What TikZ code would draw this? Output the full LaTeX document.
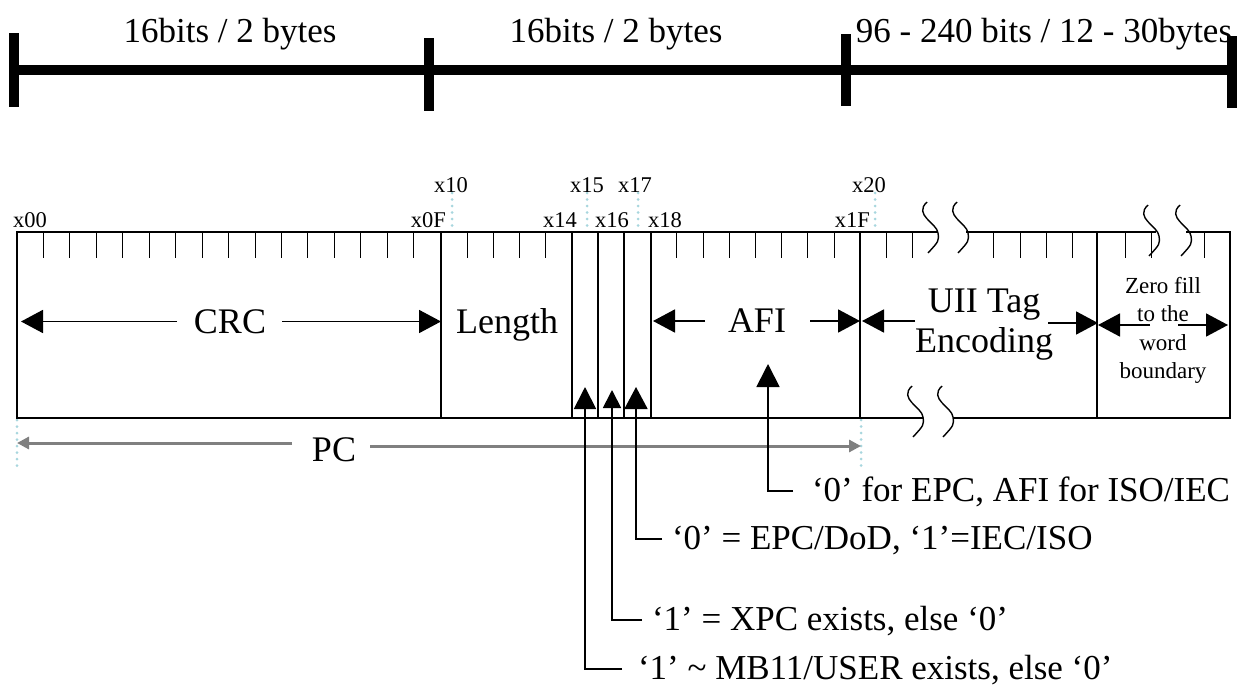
\documentclass[tikz,border=0pt]{standalone}
\usepackage{fontspec}
\setmainfont{Liberation Serif}
\usetikzlibrary{arrows.meta}
\definecolor{dotblue}{RGB}{168,214,222}
\definecolor{pcgray}{RGB}{128,128,128}
\newcommand\FontBig{\fontsize{36}{40}\selectfont}
\newcommand\FontLbl{\fontsize{35}{40}\selectfont}
\newcommand\FontHex{\fontsize{22.5}{24}\selectfont}
\newcommand\FontZero{\fontsize{23}{28}\selectfont}
\begin{document}
\begin{tikzpicture}[x=1pt,y=-1pt,
  txt/.style={inner sep=0pt, outer sep=0pt},
  big/.style={txt, font=\FontBig},
  lbl/.style={txt, font=\FontLbl},
  hex/.style={txt, font=\FontHex},
  zero/.style={txt, font=\FontZero},
  bar/.style={line width=10pt, line cap=butt},
  box/.style={line width=1.8pt},
  divider/.style={line width=1.2pt},
  tickline/.style={line width=1pt},
  dotl/.style={dotblue, line width=3pt, line cap=round, dash pattern=on 0pt off 6.5pt},
  harrow/.style={line width=1.8pt, -{Triangle[length=22pt,width=23pt]}},
  callout/.style={line width=1.8pt},
  pcarrow/.style={pcgray, line width=3pt, -{Triangle[length=12pt,width=12pt]}},
  squigline/.style={line width=1.4pt},
  squig/.pic={\draw[squigline] (0,-31) .. controls (-14,-18) and (10,-10) .. (11,0) .. controls (12,8) .. (1,20);}
]
\useasboundingbox (0,0) rectangle (1247,688);

% ---------- top dimension bar ----------
\draw[bar] (14,70) -- (1232,70);
\draw[bar] (14,33) -- (14,107);
\draw[bar] (428.6,38) -- (428.6,111);
\draw[bar] (846,34) -- (846,106);
\draw[bar] (1232,36) -- (1232,108);
\node[lbl, anchor=base] (t1) at (230,42) {16bits / 2 bytes};
\node[lbl, anchor=base] (t2) at (616,42) {16bits / 2 bytes};
\node[lbl, anchor=base] (t3) at (1044,42) {96 - 240 bits / 12 - 30bytes};

% ---------- dotted guides ----------
\foreach \x in {452,587,638,875} \draw[dotl] (\x,193) -- (\x,227);
\draw[dotl] (17,420) -- (17,466);
\draw[dotl] (861,420) -- (861,466);

% ---------- hex labels ----------
\node[hex, anchor=base west] (h00) at (13,227) {x00};
\node[hex, anchor=base east] (h0F) at (446,227) {x0F};
\node[hex, anchor=base west] (h10) at (434,192) {x10};
\node[hex, anchor=base west] (h14) at (543,227) {x14};
\node[hex, anchor=base west] (h15) at (570,192) {x15};
\node[hex, anchor=base west] (h16) at (595,227) {x16};
\node[hex, anchor=base west] (h17) at (618,192) {x17};
\node[hex, anchor=base west] (h18) at (648,227) {x18};
\node[hex, anchor=base east] (h1F) at (870,227) {x1F};
\node[hex, anchor=base west] (h20) at (852,192) {x20};

% ---------- ticks ----------
\foreach \k in {1,...,15} \draw[tickline] ({17+26.45*\k},232) -- ++(0,26);
\foreach \k in {1,2,3,4,9,10,11,12,13,14,15} \draw[tickline] ({441+26.2*\k},232) -- ++(0,26);
\foreach \x in {886,912,993,1020,1046,1072,1125,1151,1204} \draw[tickline] (\x,232) -- ++(0,26);

% ---------- frame ----------
\draw[box] (938,232) -- (17,232) -- (17,418) -- (923,418);
\draw[box] (953,418) -- (1230,418) -- (1230,232) -- (1186,232);
\draw[box] (966,232) -- (1156,232);
\foreach \x in {441,572,598,624,651,860,1097} \draw[divider] (\x,232) -- (\x,418);

% ---------- break marks ----------
\pic at (927,233) {squig};
\pic at (957,233) {squig};
\pic at (1148,236) {squig};
\pic at (1180,236) {squig};
\pic at (912,417) {squig};
\pic at (942,417) {squig};

% ---------- field labels ----------
\node[big, anchor=base] (crc) at (230,333) {CRC};
\node[big, anchor=base] (len) at (507,333) {Length};
\node[big, anchor=base] (afi) at (757,332) {AFI};
\node[big, anchor=base] (uii1) at (984,312) {UII Tag};
\node[big, anchor=base] (uii2) at (984,352) {Encoding};
\node[zero, anchor=base] (z1) at (1163,293) {Zero fill};
\node[zero, anchor=base] (z2) at (1163,321.5) {to the};
\node[zero, anchor=base] (z3) at (1163,350) {word};
\node[zero, anchor=base] (z4) at (1163,378.5) {boundary};

\coordinate (crcLs) at (177,321.5); \coordinate (crcL) at (21,321.5);
\coordinate (crcRs) at (282,321.5); \coordinate (crcR) at (441,321.5);
\draw[harrow] (crcLs) -- (crcL);
\draw[harrow] (crcRs) -- (crcR);

\coordinate (afiLs) at (705,321); \coordinate (afiL) at (653,321);
\coordinate (afiRs) at (810,321); \coordinate (afiR) at (860,321);
\draw[harrow] (afiLs) -- (afiL);
\draw[harrow] (afiRs) -- (afiR);

\coordinate (uiiLs) at (915,321); \coordinate (uiiL) at (862,321);
\coordinate (uiiRs) at (1048,323); \coordinate (uiiR) at (1098,323);
\draw[harrow] (uiiLs) -- (uiiL);
\draw[harrow] (uiiRs) -- (uiiR);

\coordinate (zLs) at (1150,325); \coordinate (zL) at (1098,325);
\coordinate (zRs) at (1178,325); \coordinate (zR) at (1228,325);
\draw[harrow] (zLs) -- (zL);
\draw[harrow] (zRs) -- (zR);

% ---------- PC span ----------
\node[big, anchor=base] (pc) at (334,461) {PC};
\coordinate (pcLs) at (292,443); \coordinate (pcL) at (17,443);
\coordinate (pcRs) at (370,446); \coordinate (pcR) at (861,446);
\draw[pcarrow] (pcLs) -- (pcL);
\draw[pcarrow] (pcRs) -- (pcR);

% ---------- call-outs ----------
\node[lbl, anchor=base west] (lA) at (812,501) {‘0’ for EPC, AFI for ISO/IEC};
\node[lbl, anchor=base west] (lB) at (672,549) {‘0’ = EPC/DoD, ‘1’=IEC/ISO};
\node[lbl, anchor=base west] (lC) at (652,630) {‘1’ = XPC exists, else ‘0’};
\node[lbl, anchor=base west] (lD) at (638,679) {‘1’ \textasciitilde{} MB11/USER exists, else ‘0’};

\coordinate (eA) at (793,491); \coordinate (cA) at (768,491); \coordinate (tA) at (768,364);
\coordinate (eB) at (662,539); \coordinate (cB) at (636,539); \coordinate (tB) at (636,387);
\coordinate (eC) at (642,620); \coordinate (cC) at (612,620); \coordinate (tC) at (612,390);
\coordinate (eD) at (622,669); \coordinate (cD) at (585,669); \coordinate (tD) at (585,387);
\draw[callout, -{Triangle[length=23pt,width=23pt]}] (eA) -- (cA) -- (tA);
\draw[callout, -{Triangle[length=22pt,width=23pt]}] (eB) -- (cB) -- (tB);
\draw[callout, -{Triangle[length=18pt,width=18pt]}] (eC) -- (cC) -- (tC);
\draw[callout, -{Triangle[length=22pt,width=22pt]}] (eD) -- (cD) -- (tD);
\end{tikzpicture}
\end{document}
